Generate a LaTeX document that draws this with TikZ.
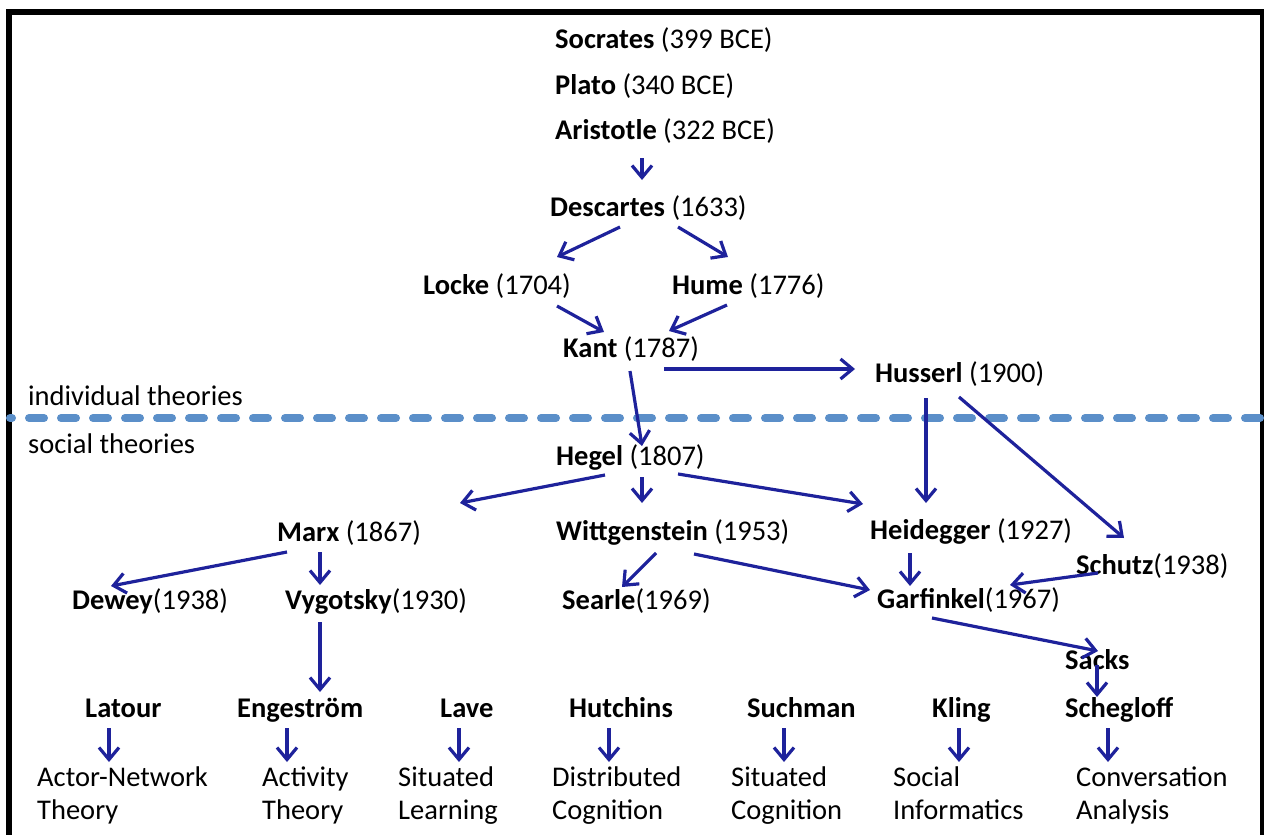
\documentclass[tikz,border=0pt]{standalone}
\usepackage{fontspec}
\setmainfont{Carlito}
\usetikzlibrary{arrows.meta}
\definecolor{arrblue}{RGB}{30,34,155}
\definecolor{dashblue}{RGB}{91,143,201}
\tikzset{
  lbl/.style={anchor=base west, inner sep=0pt, font=\fontsize{28.5}{33}\selectfont},
  two/.style={lbl, align=left},
  arr/.style={draw=arrblue, line width=3.2pt, -{Straight Barb[length=12pt,width=20pt]}},
}
\begin{document}
\begin{tikzpicture}[x=1pt,y=-1pt]
\useasboundingbox (0,0) rectangle (1264,835);
\clip (0,0) rectangle (1264,835);
% frame
\draw[line width=6pt] (9,850) -- (9,12) -- (1263,12) -- (1263,850);
% divider
\draw[dashblue, line width=8pt, line cap=round, dash pattern=on 15pt off 17pt, dash phase=13pt] (10,418) -- (1270,418);
% nodes
\node[lbl] (soc) at (555,48) {\textbf{Socrates} (399 BCE)};
\node[lbl] (plato) at (555,94) {\textbf{Plato} (340 BCE)};
\node[lbl] (arist) at (555,139) {\textbf{Aristotle} (322 BCE)};
\node[lbl] (desc) at (550,216) {\textbf{Descartes} (1633)};
\node[lbl] (locke) at (423,294) {\textbf{Locke} (1704)};
\node[lbl] (hume) at (672,294) {\textbf{Hume} (1776)};
\node[lbl] (kant) at (563,357) {\textbf{Kant} (1787)};
\node[lbl] (huss) at (875,382) {\textbf{Husserl} (1900)};
\node[lbl] (indiv) at (28,405) {individual theories};
\node[lbl] (social) at (28,453) {social theories};
\node[lbl] (hegel) at (556,465) {\textbf{Hegel} (1807)};
\node[lbl] (marx) at (277,541) {\textbf{Marx} (1867)};
\node[lbl] (witt) at (556,540) {\textbf{Wittgenstein} (1953)};
\node[lbl] (heid) at (870,539) {\textbf{Heidegger} (1927)};
\node[lbl] (schutz) at (1076,574) {\textbf{Schutz}(1938)};
\node[lbl] (dewey) at (72,609) {\textbf{Dewey}(1938)};
\node[lbl] (vyg) at (285,609) {\textbf{Vygotsky}(1930)};
\node[lbl] (searle) at (562,609) {\textbf{Searle}(1969)};
\node[lbl] (garf) at (877,608) {\textbf{Garfinkel}(1967)};
\node[lbl] (sacks) at (1065,669) {\textbf{Sacks}};
\node[lbl] (latour) at (85,717) {\textbf{Latour}};
\node[lbl] (enge) at (237,717) {\textbf{Engeström}};
\node[lbl] (lave) at (440,717) {\textbf{Lave}};
\node[lbl] (hutch) at (569,717) {\textbf{Hutchins}};
\node[lbl] (such) at (747,717) {\textbf{Suchman}};
\node[lbl] (kling) at (932,717) {\textbf{Kling}};
\node[lbl] (scheg) at (1065,717) {\textbf{Schegloff}};
% two-line labels: base anchor is the baseline of the last line
\node[two] (ant) at (37,819) {Actor-Network\\Theory};
\node[two] (act) at (262,819) {Activity\\Theory};
\node[two] (sl) at (398,819) {Situated\\Learning};
\node[two] (dc) at (552,819) {Distributed\\Cognition};
\node[two] (sc) at (731,819) {Situated\\Cognition};
\node[two] (si) at (893,819) {Social\\Informatics};
\node[two] (ca) at (1076,819) {Conversation\\Analysis};
% connectors
\draw[arr] ([shift={(87,19)}]arist.base west) -- ([shift={(92,-36)}]desc.base west);
\draw[arr] ([shift={(70,11)}]desc.base west) -- ([shift={(134,-37)}]locke.base west);
\draw[arr] ([shift={(128,11)}]desc.base west) -- ([shift={(56,-37)}]hume.base west);
\draw[arr] ([shift={(134,12)}]locke.base west) -- ([shift={(41,-25)}]kant.base west);
\draw[arr] ([shift={(55,11)}]hume.base west) -- ([shift={(106,-26)}]kant.base west);
\draw[arr] ([shift={(101,12)}]kant.base west) -- ([shift={(-20,-13)}]huss.base west);
\draw[arr] ([shift={(67,14)}]kant.base west) -- ([shift={(86,-19)}]hegel.base west);
\draw[arr] ([shift={(49,10)}]hegel.base west) -- ([shift={(183,-38)}]marx.base west);
\draw[arr] ([shift={(86,12)}]hegel.base west) -- ([shift={(86,-37)}]witt.base west);
\draw[arr] ([shift={(122,9)}]hegel.base west) -- ([shift={(-7,-35)}]heid.base west);
\draw[arr] ([shift={(51,16)}]huss.base west) -- ([shift={(56,-36)}]heid.base west);
\draw[arr] ([shift={(84,15)}]huss.base west) -- ([shift={(48,-36)}]schutz.base west);
\draw[arr] ([shift={(10,11)}]marx.base west) -- ([shift={(39,-23)}]dewey.base west);
\draw[arr] ([shift={(43,11)}]marx.base west) -- ([shift={(35,-24)}]vyg.base west);
\draw[arr] ([shift={(100,13)}]witt.base west) -- ([shift={(60,-22)}]searle.base west);
\draw[arr] ([shift={(138,14)}]witt.base west) -- ([shift={(-7,-18)}]garf.base west);
\draw[arr] ([shift={(40,14)}]heid.base west) -- ([shift={(33,-22)}]garf.base west);
\draw[arr] ([shift={(22,-1)}]schutz.base west) -- ([shift={(133,-23)}]garf.base west);
\draw[arr] ([shift={(55,10)}]garf.base west) -- ([shift={(33,-18)}]sacks.base west);
\draw[arr] ([shift={(32,-4)}]sacks.base west) -- ([shift={(32,-20)}]scheg.base west);
\draw[arr] ([shift={(35,13)}]vyg.base west) -- ([shift={(83,-25)}]enge.base west);
\draw[arr] ([shift={(24,11)}]latour.base west) -- ([shift={(72,-57)}]ant.base west);
\draw[arr] ([shift={(50,11)}]enge.base west) -- ([shift={(25,-57)}]act.base west);
\draw[arr] ([shift={(19,11)}]lave.base west) -- ([shift={(61,-57)}]sl.base west);
\draw[arr] ([shift={(40,11)}]hutch.base west) -- ([shift={(57,-57)}]dc.base west);
\draw[arr] ([shift={(37,11)}]such.base west) -- ([shift={(53,-57)}]sc.base west);
\draw[arr] ([shift={(27,11)}]kling.base west) -- ([shift={(66,-57)}]si.base west);
\draw[arr] ([shift={(43,11)}]scheg.base west) -- ([shift={(32,-57)}]ca.base west);
\end{tikzpicture}
\end{document}
